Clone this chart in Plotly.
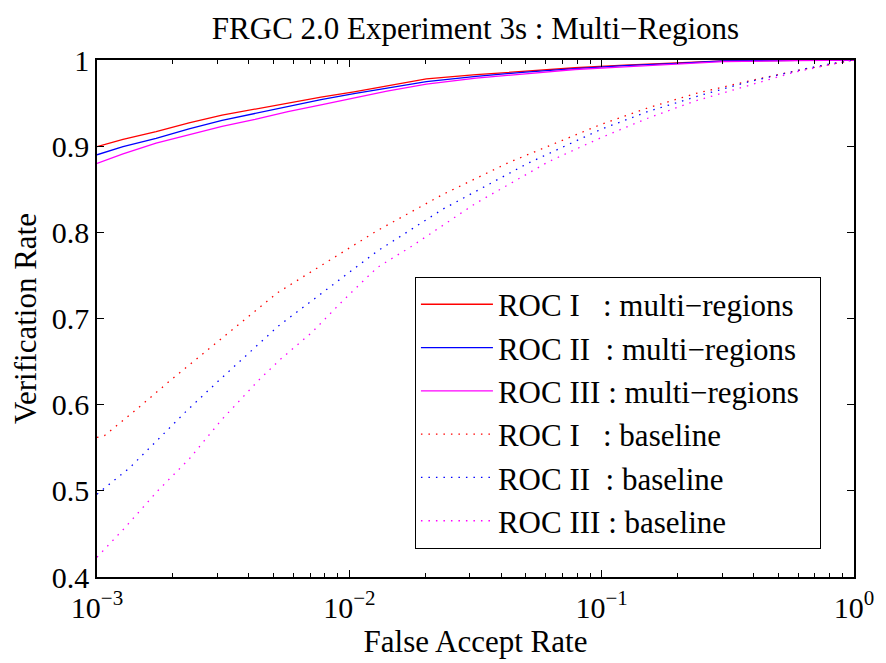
import plotly.graph_objects as go

# ---- data ----
far_multi = [0.001, 0.001268, 0.001715, 0.002315, 0.00313, 0.00423, 0.00571, 0.00772,
             0.01043, 0.0141, 0.0202, 0.0318, 0.0499, 0.0784, 0.123, 0.2, 0.303, 0.6, 1.0]
vr_multi_I = [0.8995, 0.908, 0.917, 0.927, 0.936, 0.943, 0.950, 0.957, 0.963, 0.970,
              0.978, 0.983, 0.987, 0.991, 0.994, 0.997, 0.999, 0.9997, 1.0]
vr_multi_II = [0.890, 0.8995, 0.909, 0.920, 0.930, 0.938, 0.946, 0.954, 0.961, 0.967,
               0.975, 0.981, 0.986, 0.990, 0.9934, 0.996, 0.999, 0.9995, 1.0]
vr_multi_III = [0.880, 0.891, 0.9035, 0.913, 0.923, 0.931, 0.940, 0.948, 0.956, 0.964,
                0.972, 0.979, 0.984, 0.989, 0.992, 0.995, 0.998, 0.9993, 1.0]

far_base_I = [0.001, 0.00107, 0.0014, 0.00195, 0.0052, 0.0129, 0.0235, 0.0428, 0.097,
              0.151, 0.235, 0.375, 0.6, 0.925, 1.0]
vr_base_I = [0.562, 0.564, 0.592, 0.628, 0.730, 0.802, 0.844, 0.881, 0.924,
             0.944, 0.961, 0.975, 0.988, 0.998, 1.0]

far_base_II = [0.001, 0.00135, 0.00171, 0.00225, 0.00304, 0.00522, 0.01288, 0.0235,
               0.0509, 0.1002, 0.152, 0.246, 0.386, 0.644, 0.82, 1.0]
vr_base_II = [0.496, 0.527, 0.557, 0.592, 0.628, 0.691, 0.778, 0.827,
              0.880, 0.920, 0.940, 0.959, 0.975, 0.990, 0.996, 1.0]

far_base_III = [0.001, 0.001288, 0.00174, 0.00232, 0.00313, 0.00436, 0.0053, 0.00711,
                0.00953, 0.01288, 0.0177, 0.0235, 0.0318, 0.0443, 0.0616, 0.0997,
                0.151, 0.232, 0.364, 0.583, 0.884, 1.0]
vr_base_III = [0.423, 0.457, 0.500, 0.537, 0.583, 0.628, 0.652, 0.684,
               0.722, 0.759, 0.784, 0.808, 0.834, 0.858, 0.882, 0.910,
               0.932, 0.952, 0.969, 0.986, 0.997, 1.0]

x_tickvals = [0.001, 0.01, 0.1, 1]
x_ticktext = ["10<sup>−3</sup>", "10<sup>−2</sup>", "10<sup>−1</sup>", "10<sup>0</sup>"]
x_minor = [m * 10 ** e for e in (-3, -2, -1) for m in range(2, 10)]
y_tickvals = [0.4, 0.5, 0.6, 0.7, 0.8, 0.9, 1.0]
y_ticktext = ["0.4", "0.5", "0.6", "0.7", "0.8", "0.9", "1"]

NB = "\u00a0"
series = [
    (far_multi, vr_multi_I, "ROC I" + NB * 3 + ": multi−regions", "#ff0000", "solid"),
    (far_multi, vr_multi_II, "ROC II" + NB * 2 + ": multi−regions", "#0000ff", "solid"),
    (far_multi, vr_multi_III, "ROC III : multi−regions" + NB * 2, "#ff00ff", "solid"),
    (far_base_I, vr_base_I, "ROC I" + NB * 3 + ": baseline", "#ff0000", "1.5px,6px"),
    (far_base_II, vr_base_II, "ROC II" + NB * 2 + ": baseline", "#0000ff", "1.5px,6px"),
    (far_base_III, vr_base_III, "ROC III : baseline", "#ff00ff", "1.5px,6px"),
]

FONT = "Liberation Serif"

fig = go.Figure()
for xs, ys, name, color, dash in series:
    fig.add_trace(go.Scatter(x=xs, y=ys, mode="lines", name=name,
                             line=dict(color=color, width=1.3, dash=dash)))

fig.update_layout(
    width=886, height=663,
    margin=dict(l=97, r=24, t=60, b=85),
    paper_bgcolor="white", plot_bgcolor="white",
    font=dict(family=FONT, color="black", size=29),
    title=dict(text="FRGC 2.0 Experiment 3s : Multi−Regions",
               x=0.5, xref="paper", xanchor="center",
               y=1 - 28 / 663, yref="container", yanchor="middle",
               font=dict(family=FONT, size=31, color="black")),
    legend=dict(x=0.42, y=0.581, xanchor="left", yanchor="top",
                bgcolor="white", bordercolor="black", borderwidth=1,
                font=dict(family=FONT, size=31, color="black"),
                itemwidth=72, tracegroupgap=0),
    showlegend=True,
)
fig.update_xaxes(
    type="log", range=[-3, 0],
    tickmode="array", tickvals=x_tickvals, ticktext=x_ticktext,
    ticks="inside", ticklen=7, tickwidth=1, tickcolor="black",
    minor=dict(tickmode="array", tickvals=x_minor, ticks="inside", ticklen=4,
               tickwidth=1, tickcolor="black"),
    showline=True, linecolor="black", linewidth=1.5, mirror="allticks",
    showgrid=False, zeroline=False, ticklabelstandoff=3,
    tickfont=dict(family=FONT, size=30, color="black"),
    title=dict(text="False Accept Rate", standoff=6,
               font=dict(family=FONT, size=31, color="black")),
)
fig.update_yaxes(
    range=[0.4, 1.0],
    tickmode="array", tickvals=y_tickvals, ticktext=y_ticktext,
    ticks="inside", ticklen=7, tickwidth=1, tickcolor="black",
    showline=True, linecolor="black", linewidth=1.5, mirror="allticks",
    showgrid=False, zeroline=False, ticklabelstandoff=0,
    tickfont=dict(family=FONT, size=30, color="black"),
    title=dict(text="Verification Rate", standoff=6,
               font=dict(family=FONT, size=31, color="black")),
)

fig.write_html("out.html")
